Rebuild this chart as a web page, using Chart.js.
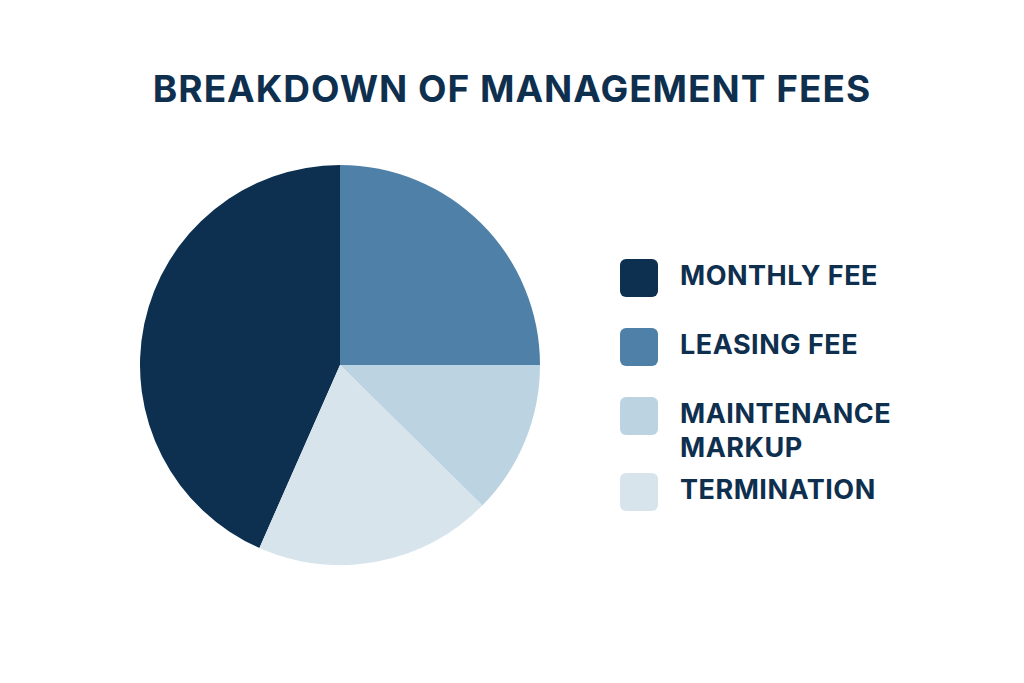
<!DOCTYPE html>
<html><head><meta charset="utf-8">
<script src="https://cdn.jsdelivr.net/npm/chart.js@4"></script>
<style>
body{margin:0;width:1024px;height:683px;background:#fff;font-family:Inter,"Open Sans",sans-serif;position:relative;overflow:hidden}
#title{position:absolute;top:66px;left:0;width:1024px;text-align:center;font-size:37px;font-weight:700;color:#0f2f4f;letter-spacing:1px}
#wrap{position:absolute;left:130px;top:155px;width:420px;height:420px}
#legend{position:absolute;left:620px;top:0}
.item{position:absolute;left:0;display:flex;align-items:flex-start;white-space:nowrap}
.sw{width:38px;height:38px;border-radius:6px;margin-right:22px}
.tx{font-size:27px;font-weight:700;color:#0f2f4f;line-height:34px;letter-spacing:0.5px}
</style></head><body>
<div id="title">BREAKDOWN OF MANAGEMENT FEES</div>
<div id="wrap"><canvas id="c" width="420" height="420"></canvas></div>
<div id="legend"></div>
<script>
const categories=["MONTHLY FEE","LEASING FEE","MAINTENANCE\nMARKUP","TERMINATION"];
const values=[43.4,25,12.4,19.2];
const colors=["#0d3050","#4f81a8","#bcd3e2","#d7e4ec"];
const legendTops=[259,328,397,473];
const total=values.reduce((a,b)=>a+b,0);
new Chart(document.getElementById('c'),{type:'pie',
data:{labels:categories,datasets:[{data:values,backgroundColor:colors,borderWidth:0}]},
options:{responsive:false,animation:false,rotation:-values[0]/total*360,layout:{padding:10},
plugins:{legend:{display:false},tooltip:{enabled:false}}}});
const lg=document.getElementById('legend');
categories.forEach((c,i)=>{const d=document.createElement('div');d.className='item';d.style.top=legendTops[i]+'px';
const s=document.createElement('div');s.className='sw';s.style.background=colors[i];
const t=document.createElement('div');t.className='tx';t.innerHTML=c.split('\n').join('<br>');
d.appendChild(s);d.appendChild(t);lg.appendChild(d);});
</script></body></html>
